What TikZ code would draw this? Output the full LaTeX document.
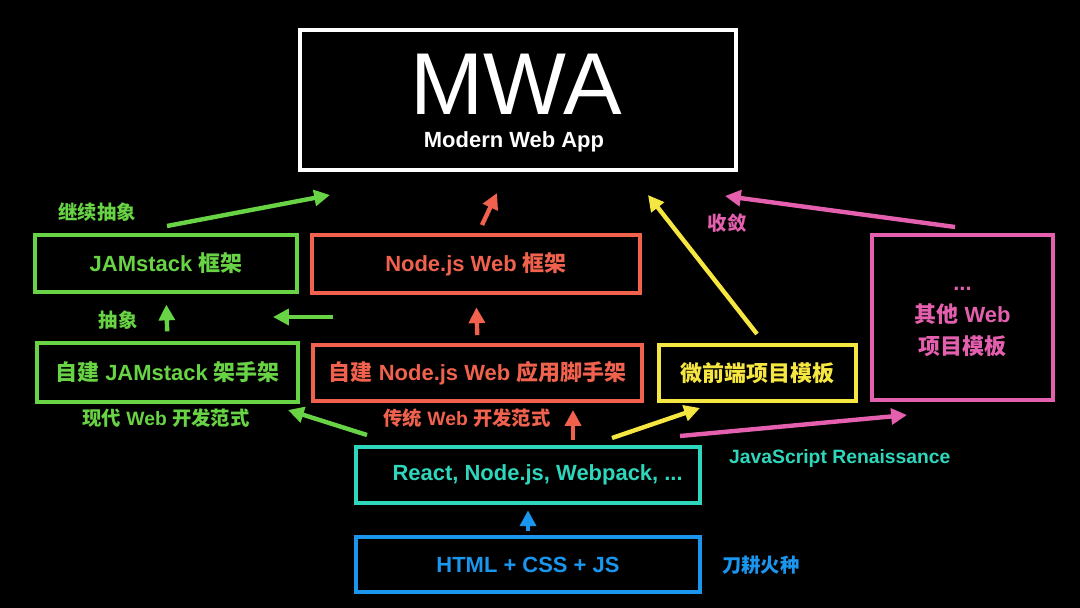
\documentclass[tikz,border=0pt]{standalone}
\usepackage{fontspec}
\setmainfont{Liberation Sans}
\newfontfamily\cjk{Noto Sans CJK SC}
\usepackage{xcolor}
\usepackage{tikz}
\usetikzlibrary{arrows.meta, positioning, calc}

\newcommand{\zhtxt}[1]{{\cjk #1}}

\definecolor{mwagreen}{RGB}{104,211,69}
\definecolor{mwared}{RGB}{240,98,78}
\definecolor{mwayellow}{RGB}{246,230,66}
\definecolor{mwapink}{RGB}{228,96,175}
\definecolor{mwateal}{RGB}{46,214,188}
\definecolor{mwablue}{RGB}{26,150,238}

\begin{document}
\begin{tikzpicture}[
                x=0.02cm, y=-0.02cm,
                box/.style={draw, line width=2.3pt, inner sep=0pt, align=center,
                            font=\bfseries\fontsize{12.5}{18}\selectfont},
                lbl/.style={font=\bfseries\fontsize{11}{13}\selectfont},
                arr/.style={line width=2.5pt, -{Triangle[length=9pt,width=9pt]}}
            ]
                % Background
                \fill[black] (0,0) rectangle (1080,608);

                % Top
                \node[box, white, minimum width=436*0.02cm, minimum height=140*0.02cm] (mwa) at (518,100) {};
                \node[white, anchor=base, inner sep=0pt, font=\fontsize{50}{50}\selectfont] (mwatitle) at (516,115) {MWA};
                \node[white, anchor=base, inner sep=0pt, font=\bfseries\fontsize{12.5}{15}\selectfont] (mwasub) at (514,148) {Modern Web App};

                % Boxes
                \node[box, mwagreen, minimum width=262*0.02cm, minimum height=57*0.02cm] (jamfw) at (166,263.5) {JAMstack \zhtxt{框架}};
                \node[box, mwared, minimum width=328*0.02cm, minimum height=58*0.02cm] (nodefw) at (476,264) {Node.js Web \zhtxt{框架}};
                \node[box, mwagreen, minimum width=261*0.02cm, minimum height=59*0.02cm] (jamcli) at (167.5,372.5) {\zhtxt{自建} JAMstack \zhtxt{架手架}};
                \node[box, mwared, minimum width=329*0.02cm, minimum height=56*0.02cm] (nodecli) at (477.5,373) {\zhtxt{自建} Node.js Web \zhtxt{应用脚手架}};
                \node[box, mwayellow, minimum width=197*0.02cm, minimum height=56*0.02cm] (mfe) at (757.5,373) {\zhtxt{微前端项目模板}};
                \node[box, mwapink, minimum width=181*0.02cm, minimum height=165*0.02cm] (other) at (962.5,317.5) {};
                \node[box, mwapink, draw=none] (othertxt) at (962.5,322) {...\\\zhtxt{其他} Web\\\zhtxt{项目模板}};
                \node[box, mwateal, minimum width=344*0.02cm, minimum height=56*0.02cm] (react) at (528,475) {\hspace{11pt}React, Node.js, Webpack, ...};
                \node[box, mwablue, minimum width=344*0.02cm, minimum height=55*0.02cm] (html) at (528,564.5) {HTML + CSS + JS};

                % Labels
                \node[lbl, mwagreen] (lblinherit) at (97,212) {\zhtxt{继续抽象}};
                \node[lbl, mwagreen] (lblabs) at (118,320) {\zhtxt{抽象}};
                \node[lbl, mwagreen] (lblmodern) at (166,418) {\zhtxt{现代} Web \zhtxt{开发范式}};
                \node[lbl, mwared] (lbltrad) at (467,418) {\zhtxt{传统} Web \zhtxt{开发范式}};
                \node[lbl, mwapink] (lblconv) at (727,223) {\zhtxt{收敛}};
                \node[lbl, mwateal, anchor=west] (lbljs) at (723,459) {JavaScript Renaissance};
                \node[lbl, mwablue, anchor=west] (lblslash) at (716,565) {\zhtxt{刀耕火种}};

                % Arrow ends
                \coordinate (inh-s) at (167,226);
                \coordinate (inh-e) at (330,195);
                \coordinate (nfw-s) at (482,225);
                \coordinate (nfw-e) at (497,193);
                \coordinate (mfe-s) at (757,334);
                \coordinate (mfe-e) at (648,195);
                \coordinate (oth-s) at (955,227);
                \coordinate (oth-e) at (725,196);
                \coordinate (left-s) at (333,317);
                \coordinate (left-e) at (273,317);
                \coordinate (mod-s) at (367,435);
                \coordinate (mod-e) at (288,410);
                \coordinate (trad-s) at (573,440);
                \coordinate (trad-e) at (573,410);
                \coordinate (ymfe-s) at (612,438);
                \coordinate (ymfe-e) at (700,408);
                \coordinate (poth-s) at (680,436);
                \coordinate (poth-e) at (907,415);

                % Arrows
                \draw[arr, mwagreen] (inh-s) -- (inh-e);
                \draw[arr, mwared] (nfw-s) -- (nfw-e);
                \draw[arr, mwayellow] (mfe-s) -- (mfe-e);
                \draw[arr, mwapink] (oth-s) -- (oth-e);
                \draw[arr, mwagreen, shorten <=5.5pt, shorten >=6pt] (jamcli.north) -- (jamfw.south);
                \draw[arr, mwagreen] (left-s) -- (left-e);
                \draw[arr, mwared, shorten <=4.5pt, shorten >=7pt] (nodecli.north) -- (nodefw.south);
                \draw[arr, mwagreen] (mod-s) -- (mod-e);
                \draw[arr, mwared] (trad-s) -- (trad-e);
                \draw[arr, mwayellow] (ymfe-s) -- (ymfe-e);
                \draw[arr, mwapink] (poth-s) -- (poth-e);
                \draw[arr, mwablue, shorten <=2.5pt, shorten >=3pt] (html.north) -- (react.south);
            \end{tikzpicture}
\end{document}
